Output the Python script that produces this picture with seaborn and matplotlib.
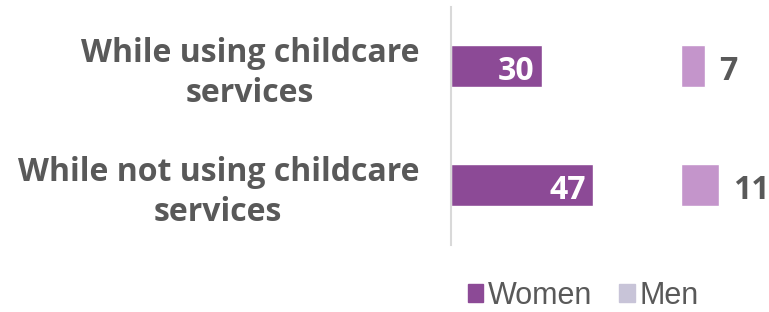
import matplotlib
matplotlib.use("Agg")
import matplotlib.pyplot as plt
from matplotlib.patches import Patch
import seaborn as sns
import pandas as pd

categories = ["While using childcare\nservices", "While not using childcare\nservices"]
women = [30, 47]
men = [7, 11]
series = ["Women", "Men"]

WOMEN_COLOR = "#8c4a96"
MEN_COLOR = "#c495cb"
MEN_LEGEND = "#c8c4d8"
TEXT = "#595959"

sns.set_theme(style="white")
plt.rcParams["font.family"] = ["Open Sans", "DejaVu Sans"]

W, H = 769, 312
fig = plt.figure(figsize=(W / 100, H / 100), dpi=100)

def px_axes(x0, x1, y0, y1):
    return fig.add_axes([x0 / W, 1 - y1 / H, (x1 - x0) / W, (y1 - y0) / H])

df_w = pd.DataFrame({"cat": categories, "value": women})
df_m = pd.DataFrame({"cat": categories, "value": men})

# Women panel
ax1 = px_axes(451, 662, 6.5, 244.5)
sns.barplot(data=df_w, x="value", y="cat", color=WOMEN_COLOR, width=0.353,
            saturation=1, ax=ax1)
ax1.set_xlim(0, 211 / 3.02)
ax1.set_ylim(1.5, -0.5)
ax1.set_xlabel("")
ax1.set_ylabel("")
ax1.set_xticks([])
for s in ["top", "right", "bottom"]:
    ax1.spines[s].set_visible(False)
ax1.spines["left"].set_color("#d9d9d9")
ax1.spines["left"].set_linewidth(1.5)
ax1.tick_params(axis="y", length=0, pad=23)
for lbl in ax1.get_yticklabels():
    lbl.set_fontsize(23)
    lbl.set_fontweight("bold")
    lbl.set_color(TEXT)
    lbl.set_multialignment("center")
    lbl.set_linespacing(1.28)
for i, v in enumerate(women):
    ax1.annotate(f"{v}", xy=(v, i), xytext=(-5, -10), textcoords="offset points",
                 ha="right", va="baseline", color="white",
                 fontsize=23, fontweight="bold")

# Men panel
ax2 = px_axes(680.7, 769, 6.5, 244.5)
sns.barplot(data=df_m, x="value", y="cat", color=MEN_COLOR, width=0.353,
            saturation=1, ax=ax2)
ax2.set_xlim(0, 88.3 / 3.46)
ax2.set_ylim(1.5, -0.5)
ax2.set_xlabel("")
ax2.set_ylabel("")
ax2.set_xticks([])
ax2.set_yticks([])
for s in ax2.spines.values():
    s.set_visible(False)
for i, v in enumerate(men):
    ax2.annotate(f"{v}", xy=(v, i), xytext=(10, -10), textcoords="offset points",
                 ha="left", va="baseline", color=TEXT, fontsize=23, fontweight="bold")

handles = [Patch(color=WOMEN_COLOR, label=series[0]),
           Patch(color=MEN_LEGEND, label=series[1])]
fig.legend(handles=handles, loc="center", bbox_to_anchor=(583 / W, 1 - 296 / H),
           ncol=2, frameon=False, handlelength=0.5, handleheight=0.5,
           handletextpad=0.15, columnspacing=0.9,
           prop={"family": "Liberation Sans", "size": 22}, labelcolor=TEXT)

fig.savefig("out.png", dpi=100)
